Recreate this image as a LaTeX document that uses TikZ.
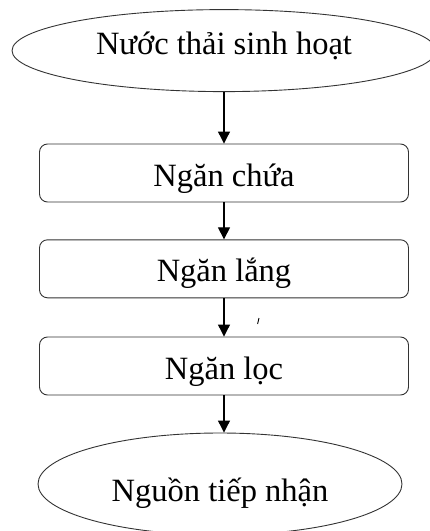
\documentclass[tikz,border=0pt]{standalone}
\usepackage{fontspec}
\setmainfont{Liberation Serif}
\usetikzlibrary{shapes.geometric,arrows.meta}
\begin{document}
\begin{tikzpicture}[x=1pt,y=-1pt,
  every node/.style={font=\fontsize{32.5}{39}\selectfont, inner sep=0pt, text depth=0pt},
  outline/.style={draw=black!80, line width=0.9pt},
  oval/.style={outline, ellipse},
  stepbox/.style={outline, rectangle, rounded corners=8pt, minimum width=369pt, minimum height=58pt, text height=26pt},
  flow/.style={draw=black, line width=1.1pt, -{Triangle[width=12pt,length=12pt]}}]
\useasboundingbox (0,0) rectangle (430,531);
\clip (0,0) rectangle (430,531);
\node[oval, minimum width=424pt, minimum height=82pt, text height=8pt] (src) at (224,50.6) {Nước thải sinh hoạt};
\node[stepbox] (b1) at (224,173) {Ngăn chứa};
\node[stepbox] (b2) at (224,268.8) {Ngăn lắng};
\node[stepbox] (b3) at (224,366) {Ngăn lọc};
\node[oval, minimum width=364pt, minimum height=102pt, text height=35pt] (dst) at (220,484) {Nguồn tiếp nhận};
\draw[flow] (src.south) -- (b1.north);
\draw[flow] (b1.south) -- (b2.north);
\draw[flow] (b2.south) -- (b3.north);
\draw[flow] (b3.south) -- (b3.south |- dst.north);
\draw[line width=0.9pt] (259,318) -- (257.6,324);
\end{tikzpicture}
\end{document}
